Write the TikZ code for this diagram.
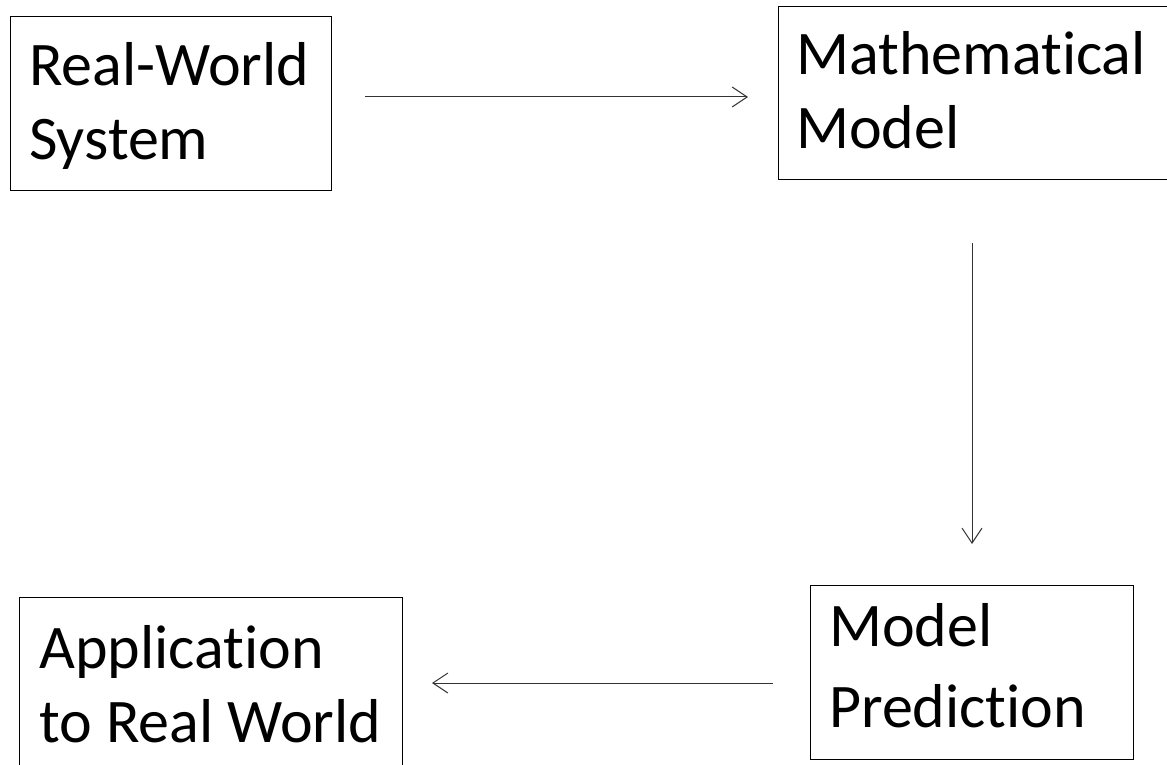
\documentclass[tikz,border=0pt]{standalone}
\usepackage{fontspec}
\setmainfont{Carlito}[Ligatures={NoCommon,NoRare,NoDiscretionary}]
\usetikzlibrary{arrows.meta}
\tikzset{
  box/.style={draw=black, line width=1.3pt, inner sep=0pt, anchor=north west},
  txt/.style={inner sep=0pt, anchor=base west, align=left, font=\fontsize{62}{74}\selectfont},
  conn/.style={draw=black!80, line width=1pt, -{Straight Barb[length=15pt,width=20pt,line width=1pt]}}
}
\begin{document}
\begin{tikzpicture}[x=1pt,y=-1pt]
\useasboundingbox[fill=white] (0,0) rectangle (1167,765);
\node[box, minimum width=321pt, minimum height=174pt] (rw) at (10,16) {};
\node[box, minimum width=400pt, minimum height=173pt] (mm) at (778,6) {};
\node[box, minimum width=383pt, minimum height=180pt] (ap) at (19,597) {};
\node[box, minimum width=323pt, minimum height=174pt] (mp) at (810,585) {};
\node[txt] (rwt) at (29,160) {Real-World\\System};
\node[txt] (mmt) at (796,149) {Mathematical\\Model};
\node[txt] (apt) at (39,742) {Application\\to Real World};
\node[txt, font=\fontsize{62}{81}\selectfont] (mpt) at (829,727) {Model\\Prediction};
\coordinate (a1s) at (365,97);
\coordinate (a1e) at (748,97);
\coordinate (a2s) at (972,243);
\coordinate (a2e) at (972,544);
\coordinate (a3s) at (773,683);
\coordinate (a3e) at (432,683);
\draw[conn] (a1s) -- (a1e);
\draw[conn] (a2s) -- (a2e);
\draw[conn] (a3s) -- (a3e);
\end{tikzpicture}
\end{document}
